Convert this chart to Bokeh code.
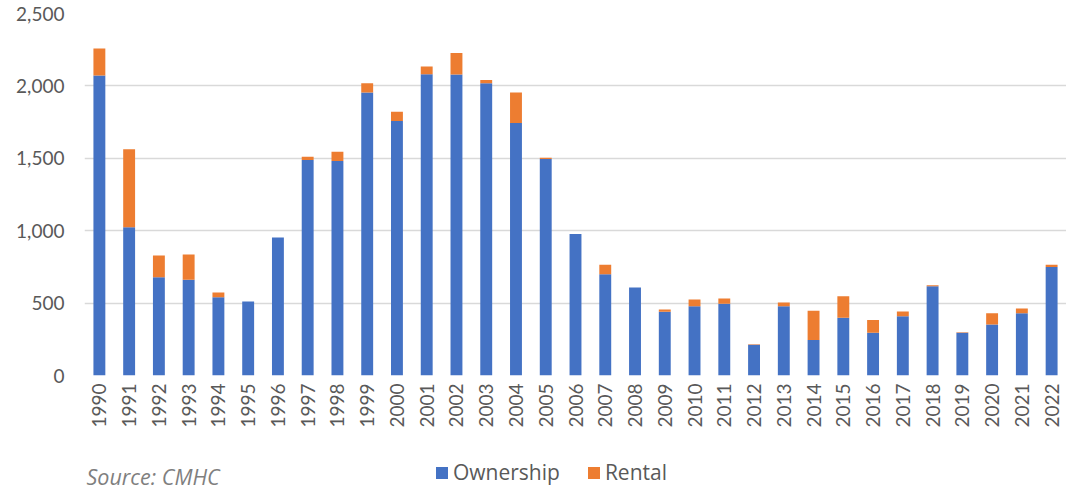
import math
from bokeh.plotting import figure
from bokeh.layouts import column
from bokeh.models import (Range1d, FactorRange, FixedTicker, NumeralTickFormatter,
                          Legend, LegendItem, Label)
from bokeh.embed import file_html
from bokeh.resources import INLINE

years = [str(y) for y in range(1990, 2023)]
ownership = [2072, 1024, 679, 661, 541, 511, 953, 1489, 1482, 1954, 1757, 2081, 2079,
             2019, 1743, 1496, 978, 700, 608, 440, 479, 495, 212, 479, 246, 398, 295,
             410, 617, 295, 352, 430, 750]
rental = [186, 539, 150, 175, 32, 0, 0, 21, 63, 65, 64, 53, 149, 21, 211, 7, 0, 64,
          0, 16, 46, 37, 3, 25, 201, 150, 89, 32, 7, 4, 78, 33, 14]
series = ["Ownership", "Rental"]
colors = ["#4472C4", "#ED7D31"]
y_ticks = [0, 500, 1000, 1500, 2000, 2500]

FONT = "Lato"
FONT2 = "Open Sans"
TXT = "#595959"

src = dict(year=years, Ownership=ownership, Rental=rental)

p = figure(x_range=FactorRange(*years, range_padding=0), y_range=Range1d(0, 2500),
           width=1066, height=437, output_backend="svg", toolbar_location=None,
           min_border_left=84, min_border_right=0, min_border_top=13,
           min_border_bottom=62)
p.outline_line_color = None

r = p.vbar_stack(series, x="year", width=0.4, color=colors, line_color=None,
                 source=src)

p.yaxis.ticker = FixedTicker(ticks=y_ticks)
p.yaxis.formatter = NumeralTickFormatter(format="0,0")
for ax in (p.xaxis, p.yaxis):
    ax.axis_line_color = None
    ax.major_tick_line_color = None
    ax.minor_tick_line_color = None
    ax.major_tick_out = 0
    ax.major_tick_in = 0
    ax.major_label_text_font = FONT
    ax.major_label_text_font_size = "19px"
    ax.major_label_text_color = TXT
p.yaxis.major_label_standoff = 20
p.xaxis.major_label_standoff = 8
p.xaxis.major_label_orientation = math.pi / 2

p.xgrid.grid_line_color = None
p.ygrid.grid_line_color = "#d9d9d9"
p.ygrid.grid_line_width = 1.5

# footer figure holding the legend and the source note; its bars lie outside
# its visible y range, so only the legend swatches of them show
f = figure(x_range=p.x_range, y_range=Range1d(3000, 4000), width=1066, height=53,
           output_backend="svg", toolbar_location=None,
           min_border_left=84, min_border_right=0, min_border_top=0,
           min_border_bottom=0)
f.axis.visible = False
f.grid.visible = False
f.outline_line_color = None
lr = f.vbar_stack(series, x="year", width=0.4, color=colors, line_color=None,
                  source=src)

legend = Legend(items=[LegendItem(label=s, renderers=[lr[i]]) for i, s in enumerate(series)],
                orientation="horizontal", location=(350, 4),
                border_line_color=None, background_fill_alpha=0,
                padding=0, margin=0, spacing=26, label_standoff=4,
                glyph_width=15, glyph_height=15,
                label_text_font=FONT2, label_text_font_size="21px",
                label_text_color=TXT)
f.add_layout(legend, "center")

f.add_layout(Label(x=2, y=0, x_units="screen", y_units="screen",
                   text="Source: CMHC", text_font=FONT2, text_font_size="21.5px",
                   text_font_style="italic", text_color="#7f7f7f",
                   text_baseline="bottom"))

layout = column(p, f, spacing=0)
open("out.html", "w").write(file_html(layout, INLINE))
